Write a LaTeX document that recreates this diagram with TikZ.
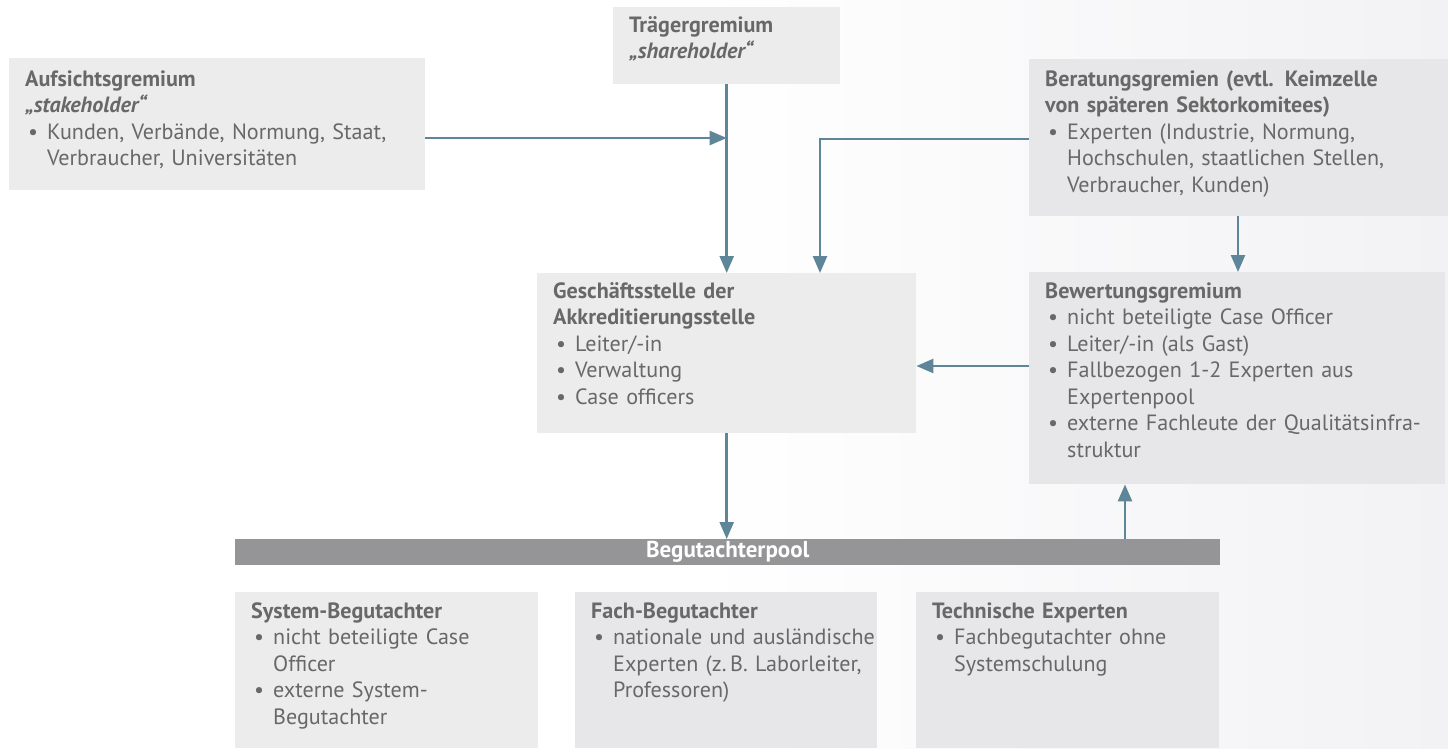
\documentclass[tikz,border=0pt]{standalone}
\usepackage{fontspec}
\setmainfont{PT Sans}
\usetikzlibrary{arrows.meta,calc}
\definecolor{boxfill}{HTML}{ECECEC}
\definecolor{boxfillb}{HTML}{E7E7E9}
\definecolor{txtgray}{HTML}{686868}
\definecolor{arrowblue}{HTML}{5E8698}
\definecolor{barfill}{HTML}{959597}
\definecolor{bgtint}{HTML}{F2F2F5}
\newcommand{\bulitem}{\hspace*{3pt}\makebox[19pt][l]{\textbullet}}
\newcommand{\contind}{\hspace*{22pt}}
\begin{document}
\begin{tikzpicture}[x=1pt,y=-1pt,
  box/.style={fill=boxfill, draw=none, anchor=north west, inner sep=0pt},
  boxb/.style={box, fill=boxfillb},
  txt/.style={anchor=base west, inner sep=0pt, text width=440pt, align=left,
    text=txtgray, font=\fontsize{22.1}{26.5}\selectfont},
  conn/.style={draw=arrowblue, line width=2.5pt, -{Triangle[length=17pt,width=14pt]}},
  barbox/.style={fill=barfill, draw=none, anchor=north west, inner sep=0pt},
  bartxt/.style={text=white, font=\fontsize{23}{24}\selectfont\bfseries, inner sep=0pt}
]
\useasboundingbox (0,0) rectangle (1448,748);
\fill[white] (0,0) rectangle (1448,748);
\shade[left color=white, right color=bgtint] (700,0) rectangle (1448,748);

% boxes
\node[box, minimum width=416pt, minimum height=132pt] (aufsicht) at (9,58) {};
\node[box, minimum width=227pt, minimum height=77pt] (traeger) at (613,7) {};
\node[boxb, minimum width=419pt, minimum height=157pt] (beratung) at (1029,59) {};
\node[box, minimum width=379pt, minimum height=160pt] (geschaeft) at (537,273) {};
\node[boxb, minimum width=416pt, minimum height=212pt] (bewertung) at (1029,272) {};
\node[barbox, minimum width=985pt, minimum height=26pt] (bar) at (235,539) {};
\node[box, minimum width=303pt, minimum height=156pt] (system) at (235,592) {};
\node[boxb, minimum width=302pt, minimum height=156pt] (fach) at (575,592) {};
\node[boxb, minimum width=303pt, minimum height=156pt] (technisch) at (916,592) {};

% texts
\node[txt] (aufsichtT) at (25,86) {\textbf{Aufsichtsgremium}\\
  \textbf{\textit{„stakeholder“}}\\
  \bulitem Kunden, Verbände, Normung, Staat,\\
  \contind Verbraucher, Universitäten};
\node[txt] (traegerT) at (629,32) {\textbf{Trägergremium}\\
  \textbf{\textit{„shareholder“}}};
\node[txt] (beratungT) at (1045,86) {\textbf{Beratungsgremien (evtl. Keimzelle}\\
  \textbf{von späteren Sektorkomitees)}\\
  \bulitem Experten (Industrie, Normung,\\
  \contind Hochschulen, staatlichen Stellen,\\
  \contind Verbraucher, Kunden)};
\node[txt] (geschaeftT) at (553,298) {\textbf{Geschäftsstelle der}\\
  \textbf{Akkreditierungsstelle}\\
  \bulitem Leiter/-in\\
  \bulitem Verwaltung\\
  \bulitem Case officers};
\node[txt] (bewertungT) at (1045,298) {\textbf{Bewertungsgremium}\\
  \bulitem nicht beteiligte Case Officer\\
  \bulitem Leiter/-in (als Gast)\\
  \bulitem Fallbezogen 1-2 Experten aus\\
  \contind Expertenpool\\
  \bulitem externe Fachleute der Qualitätsinfra-\\
  \contind struktur};
\node[bartxt] (barT) at (bar.center) {Begutachterpool};
\node[txt] (systemT) at (251,618) {\textbf{System-Begutachter}\\
  \bulitem nicht beteiligte Case\\
  \contind Officer\\
  \bulitem externe System-\\
  \contind Begutachter};
\node[txt] (fachT) at (591,618) {\textbf{Fach-Begutachter}\\
  \bulitem nationale und ausländische\\
  \contind Experten (z.\,B. Laborleiter,\\
  \contind Professoren)};
\node[txt] (technischT) at (932,618) {\textbf{Technische Experten}\\
  \bulitem Fachbegutachter ohne\\
  \contind Systemschulung};

% connectors
\draw[conn] (traeger.south) -- (geschaeft.north);
\draw[conn] (aufsicht.east |- 0,138) -- (traeger.south |- 0,138);
\draw[conn] (beratung.west |- 0,139) -| (geschaeft.north -| 820,0);
\draw[conn] (beratung.south -| 1238,0) -- (bewertung.north -| 1238,0);
\draw[conn] (bewertung.west |- 0,366) -- (geschaeft.east |- 0,366);
\draw[conn] (geschaeft.south) -- (bar.north -| geschaeft.south);
\draw[conn] (bar.north -| 1125,0) -- (bewertung.south -| 1125,0);
\end{tikzpicture}
\end{document}
